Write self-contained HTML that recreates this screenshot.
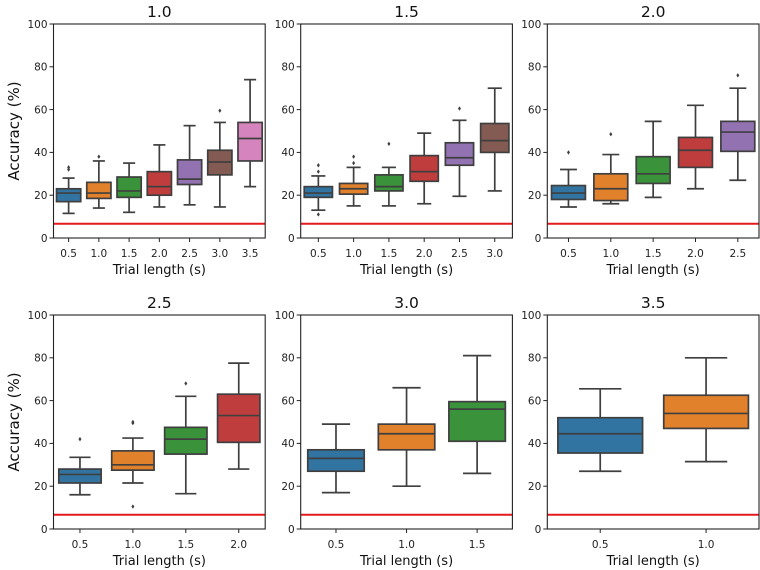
<!DOCTYPE html>
<html><head><meta charset="utf-8"><style>
body{margin:0;background:#fff;}
svg{display:block;font-family:"DejaVu Sans","Liberation Sans",sans-serif;}
</style></head><body>
<svg id="fig" width="760" height="570" viewBox="0 0 760 570"></svg>
<script>
const panelTitles=["1.0","1.5","2.0","2.5","3.0","3.5"];
const categories=[["0.5","1.0","1.5","2.0","2.5","3.0","3.5"],["0.5","1.0","1.5","2.0","2.5","3.0"],["0.5","1.0","1.5","2.0","2.5"],["0.5","1.0","1.5","2.0"],["0.5","1.0","1.5"],["0.5","1.0"]];
// each box: [whiskerLow, q1, median, q3, whiskerHigh]
const boxStats=[
 [[11.5,17,21,23,28],[14,18.5,21,26,36],[12,19,22,28.5,35],[14.5,20,24,31,43.5],[15.5,25,27.5,36.5,52.5],[14.5,29.5,35.5,41,54],[24,36,46.5,54,74]],
 [[13,19,21,24,29],[15,20.5,23,25.5,33],[15,22,24,29.5,33],[16,26.5,31,38.5,49],[19.5,34,37.5,44.5,55],[22,40,45.5,53.5,70]],
 [[14.5,18,21,24.5,32],[16,17.5,23,30,39],[19,25.5,30,38,54.5],[23,33,41,47,62],[27,40.5,49.5,54.5,70]],
 [[16,21.5,25.5,28,33.5],[21.5,27.5,30,36.5,42.5],[16.5,35,42,47.5,62],[28,40.5,53,63,77.5]],
 [[17,27,33,37,49],[20,37,44.5,49,66],[26,41,56,59.5,81]],
 [[27,35.5,44.5,52,65.5],[31.5,47,54,62.5,80]]
];
const outliers=[
 [[33,32],[38],[],[],[],[59.5],[]],
 [[34,31,11],[38,35],[44],[],[60.5],[]],
 [[40],[48.5],[],[],[76]],
 [[42],[50,49.5,10.5],[68],[]],
 [[],[],[]],
 [[],[]]
];
const chanceLevel=6.67;
const yTicks=[0,20,40,60,80,100];
const colors=["#3274a1","#e1812c","#3a923a","#c03d3e","#9372b2","#845b53","#d684bd"];
const NS="http://www.w3.org/2000/svg";
const svg=document.getElementById('fig');
function mk(tag,attrs,parent){const e=document.createElementNS(NS,tag);for(const k in attrs)e.setAttribute(k,attrs[k]);(parent||svg).appendChild(e);return e;}
const lefts=[53.5,300.7,547.3], W=211.7;
const tops=[24,315], H=214;
for(let p=0;p<6;p++){
 const col=p%3,row=Math.floor(p/3);
 const x0=lefts[col],y0=tops[row];
 const g=mk('g',{});
 
 
 const ys=v=>y0+H-v/100*H;
 const n=categories[p].length,bw=W/n;
 const xs=i=>x0+(i+0.5)*bw;
 const rl=mk('line',{x1:x0,x2:x0+W,y1:ys(chanceLevel),y2:ys(chanceLevel),stroke:'#e41a1c','stroke-width':2},g);
 
 
 for(let i=0;i<n;i++){
  const s=boxStats[p][i],cx=xs(i),hw=bw*0.4,cw=bw*0.2;
  const bg=mk('g',{stroke:'#3f3f3f','stroke-width':1.7,fill:'none'},g);
  
  
  mk('line',{x1:cx,x2:cx,y1:ys(s[0]),y2:ys(s[1])},bg);
  mk('line',{x1:cx,x2:cx,y1:ys(s[3]),y2:ys(s[4])},bg);
  mk('line',{x1:cx-cw,x2:cx+cw,y1:ys(s[0]),y2:ys(s[0])},bg);
  mk('line',{x1:cx-cw,x2:cx+cw,y1:ys(s[4]),y2:ys(s[4])},bg);
  mk('rect',{x:cx-hw,y:ys(s[3]),width:2*hw,height:ys(s[1])-ys(s[3]),fill:colors[i]},bg);
  mk('line',{x1:cx-hw,x2:cx+hw,y1:ys(s[2]),y2:ys(s[2])},bg);
  for(const o of outliers[p][i]){
   const d=mk('path',{d:`M${cx} ${ys(o)-2.2}L${cx+1.5} ${ys(o)}L${cx} ${ys(o)+2.2}L${cx-1.5} ${ys(o)}Z`,fill:'#3f3f3f',stroke:'none'},g);
   
   
  }
  mk('line',{x1:cx,x2:cx,y1:y0+H,y2:y0+H+4,stroke:'#222','stroke-width':1},g);
  const t=mk('text',{x:cx,y:y0+H+19,'font-size':10.5,'text-anchor':'middle',fill:'#222'},g);
  t.textContent=categories[p][i];
  
  
 }
 for(const v of yTicks){
  mk('line',{x1:x0-4,x2:x0,y1:ys(v),y2:ys(v),stroke:'#222','stroke-width':1},g);
  const t=mk('text',{x:x0-6,y:ys(v)+3.8,'font-size':10.5,'text-anchor':'end',fill:'#222'},g);
  t.textContent=v;
  
  
 }
 const fr=mk('rect',{x:x0,y:y0,width:W,height:H,fill:'none',stroke:'#222','stroke-width':1.1},g);
 
 
 const tt=mk('text',{x:x0+W/2,y:y0-7,'font-size':15.5,'text-anchor':'middle',fill:'#111'},g);
 tt.textContent=panelTitles[p];
 
 
 const xl=mk('text',{x:x0+W/2,y:y0+H+36,'font-size':13,'text-anchor':'middle',fill:'#111'},g);
 xl.textContent='Trial length (s)';
 
 
 if(col===0){
  const yl=mk('text',{x:0,y:0,'font-size':15,'text-anchor':'middle',fill:'#111',transform:`translate(19,${y0+H/2}) rotate(-90)`},g);
  yl.textContent='Accuracy (%)';
  
  
 }
}
</script>
</body></html>
